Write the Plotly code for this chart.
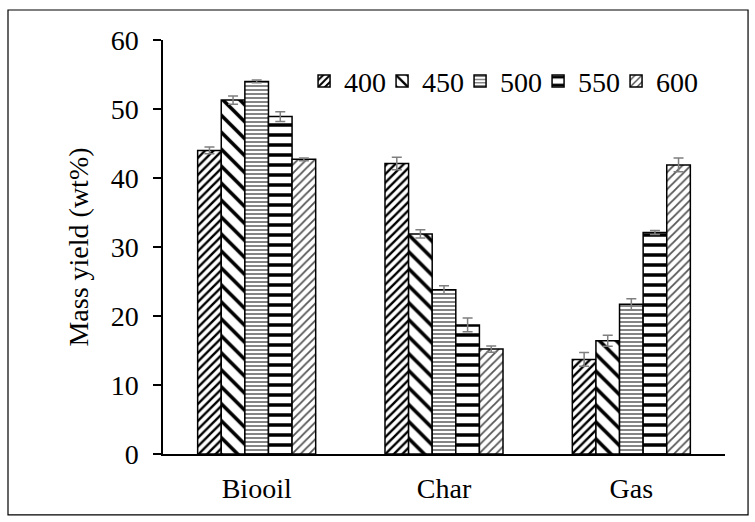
import plotly.graph_objects as go

categories = ["Biooil", "Char", "Gas"]
temps = ["400", "450", "500", "550", "600"]
values = {
    "400": [44.0, 42.1, 13.7],
    "450": [51.3, 31.9, 16.4],
    "500": [54.0, 23.8, 21.7],
    "550": [48.9, 18.7, 32.1],
    "600": [42.7, 15.2, 41.9],
}
errors = {
    "400": [0.5, 0.9, 1.0],
    "450": [0.6, 0.6, 0.8],
    "500": [0.2, 0.6, 0.8],
    "550": [0.7, 1.0, 0.3],
    "600": [0.2, 0.45, 1.0],
}
patterns = {
    "400": dict(shape="/", size=6, solidity=0.4, fgcolor="black"),
    "450": dict(shape="\\", size=12, solidity=0.3, fgcolor="black"),
    "500": dict(shape="-", size=4, solidity=0.45, fgcolor="#777777"),
    "550": dict(shape="-", size=10, solidity=0.35, fgcolor="black"),
    "600": dict(shape="/", size=6, solidity=0.3, fgcolor="#555555"),
}

FONT = "Liberation Serif"
FS = 28

def f(size=FS):
    return dict(family=FONT, size=size, color="black")

fig = go.Figure()
for t in temps:
    fig.add_trace(go.Bar(
        x=categories, y=values[t], name=t,
        legendwidth=50 if t == temps[-1] else 33,
        marker=dict(color="white", line=dict(color="black", width=1.5),
                    pattern=dict(bgcolor="white", fillmode="replace", **patterns[t])),
        error_y=dict(type="data", array=errors[t], color="#7f7f7f", thickness=1.5, width=5),
    ))

fig.update_layout(
    width=755, height=522,
    margin=dict(l=163, r=30, t=40, b=68),
    paper_bgcolor="white", plot_bgcolor="white",
    barmode="group", bargap=0.37, bargroupgap=0,
    font=f(),
    showlegend=True,
    legend=dict(orientation="h", x=0.251, xanchor="left", y=0.9, yanchor="middle",
                font=f(), entrywidthmode="pixels",
                bgcolor="rgba(0,0,0,0)", traceorder="normal"),
    xaxis=dict(showline=True, linecolor="black", linewidth=1.5, ticks="",
               showgrid=False, tickfont=f(), ticklabelstandoff=9),
    yaxis=dict(range=[0, 60], dtick=10, showline=True, linecolor="black", linewidth=1.5,
               ticks="outside", ticklen=8, tickcolor="black", tickwidth=1.5,
               showgrid=False, zeroline=False, tickfont=f(), ticklabelstandoff=9,
               title=dict(text="Mass yield (wt%)", font=f(), standoff=14)),
    shapes=[dict(type="rect", xref="paper", yref="paper",
                 x0=-0.2758, x1=1.041, y0=-0.147, y1=1.0725,
                 line=dict(color="black", width=1.2), fillcolor="rgba(0,0,0,0)")],
)

fig.write_html("out.html", config={"displayModeBar": False},
               post_script="document.body.style.margin='0';document.body.style.overflow='hidden';")
